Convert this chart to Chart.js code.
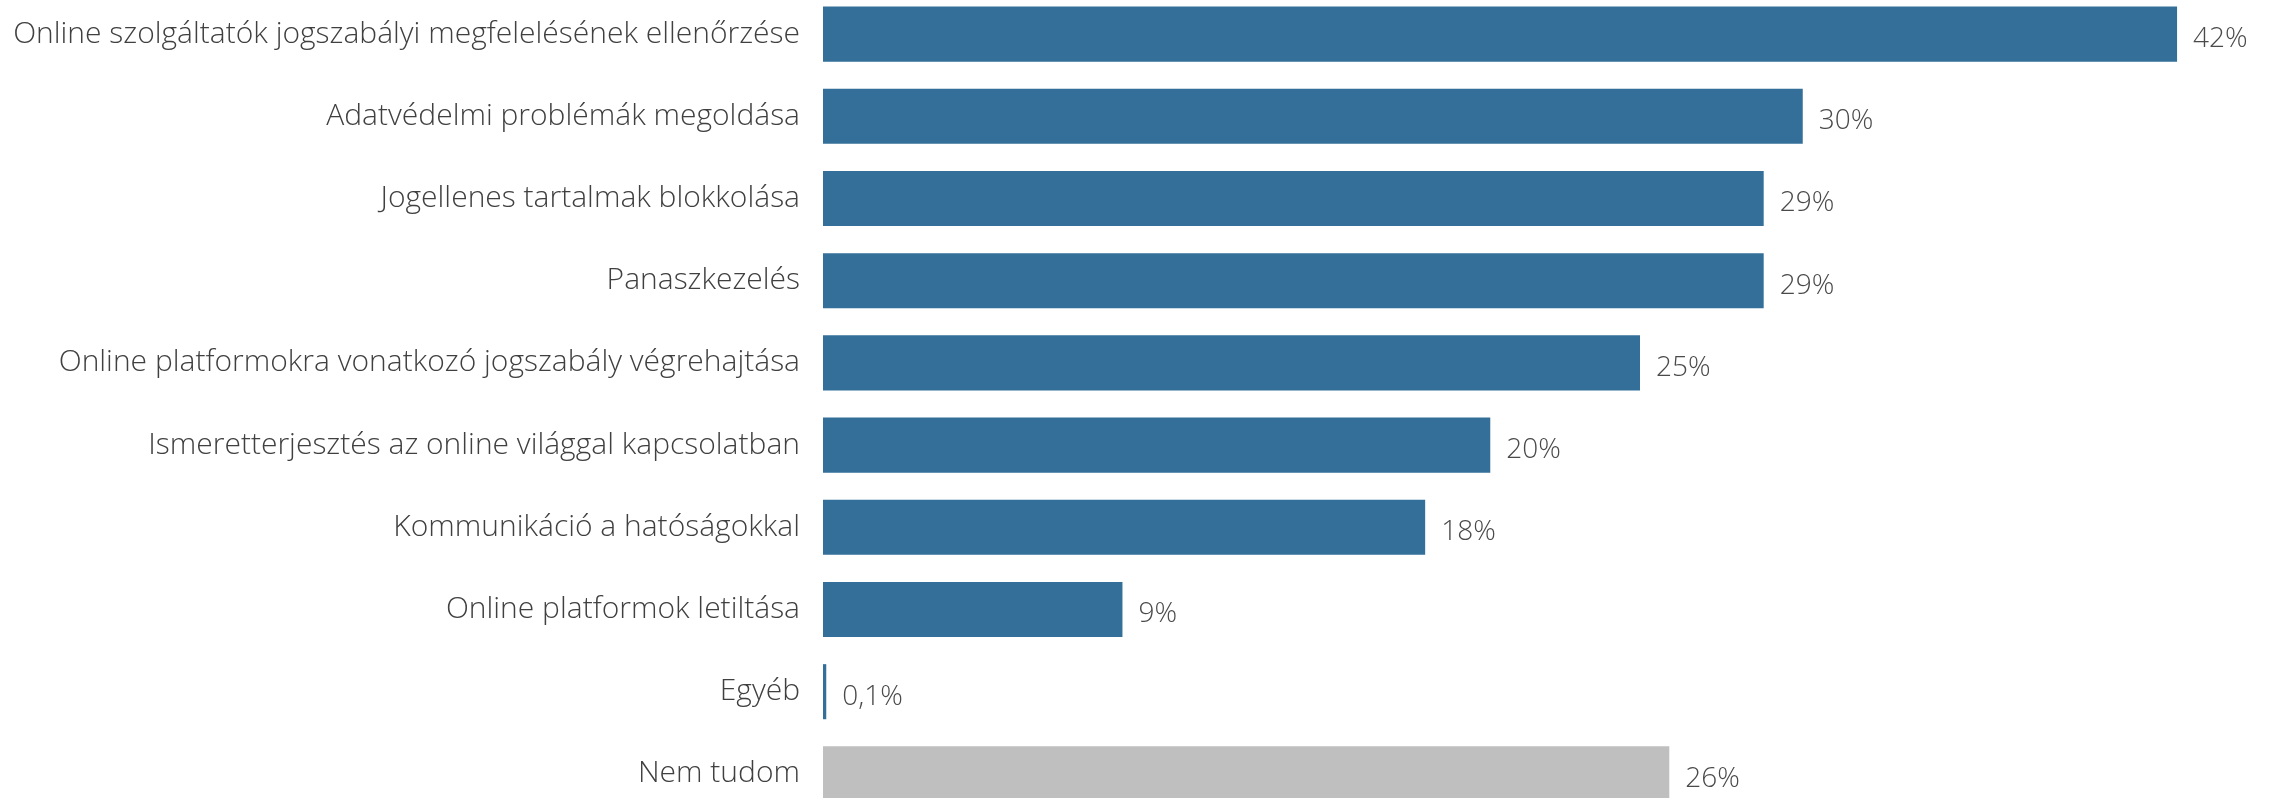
<!DOCTYPE html>
<html>
<head>
<meta charset="utf-8">
<script src="https://cdn.jsdelivr.net/npm/chart.js@4"></script>
<style>
  html, body { margin: 0; padding: 0; background: #fff; overflow: hidden; }
  #wrap { position: absolute; left: 0; top: -7px; width: 2277px; height: 822px; }
</style>
</head>
<body>
<div id="wrap"><canvas id="chart"></canvas></div>
<script>
const categories = [
  "Online szolgáltatók jogszabályi megfelelésének ellenőrzése",
  "Adatvédelmi problémák megoldása",
  "Jogellenes tartalmak blokkolása",
  "Panaszkezelés",
  "Online platformokra vonatkozó jogszabály végrehajtása",
  "Ismeretterjesztés az online világgal kapcsolatban",
  "Kommunikáció a hatóságokkal",
  "Online platformok letiltása",
  "Egyéb",
  "Nem tudom"
];
// bar lengths (the printed labels are rounded)
const values = [41.6, 30.1, 28.9, 28.9, 25.1, 20.5, 18.5, 9.2, 0.1, 26.0];
const valueTexts = ["42%", "30%", "29%", "29%", "25%", "20%", "18%", "9%", "0,1%", "26%"];
const barColors = ["#336f99", "#336f99", "#336f99", "#336f99", "#336f99", "#336f99", "#336f99", "#336f99", "#336f99", "#bfbfbf"];

const fontFamily = "'Open Sans', 'Lato', sans-serif";

// value labels at the bar ends
const valueLabels = {
  id: "valueLabels",
  afterDatasetsDraw(chart) {
    const ctx = chart.ctx;
    const meta = chart.getDatasetMeta(0);
    ctx.save();
    ctx.font = "300 28px " + fontFamily;
    ctx.fillStyle = "#4a4a4a";
    ctx.textAlign = "left";
    ctx.textBaseline = "middle";
    meta.data.forEach((bar, i) => {
      ctx.fillText(valueTexts[i], bar.x + 16, bar.y + 5);
    });
    ctx.restore();
  }
};

new Chart(document.getElementById("chart"), {
  type: "bar",
  data: {
    labels: categories,
    datasets: [
      {
        data: values,
        backgroundColor: barColors,
        borderWidth: 0,
        categoryPercentage: 1,
        barPercentage: 0.67
      }
    ]
  },
  options: {
    indexAxis: "y",
    responsive: true,
    maintainAspectRatio: false,
    animation: false,
    layout: { padding: 0 },
    scales: {
      x: {
        display: false,
        min: 0,
        max: 44.67
      },
      y: {
        grid: { display: false, drawTicks: false },
        border: { display: false },
        afterFit(scale) {
          scale.width = 823;
          scale.paddingTop = 0;
          scale.paddingBottom = 0;
        },
        ticks: {
          padding: 23,
          color: "#404040",
          font: { family: fontFamily, size: 30, weight: "300" }
        }
      }
    },
    plugins: {
      legend: { display: false },
      tooltip: { enabled: false }
    }
  },
  plugins: [valueLabels]
});
</script>
</body>
</html>
